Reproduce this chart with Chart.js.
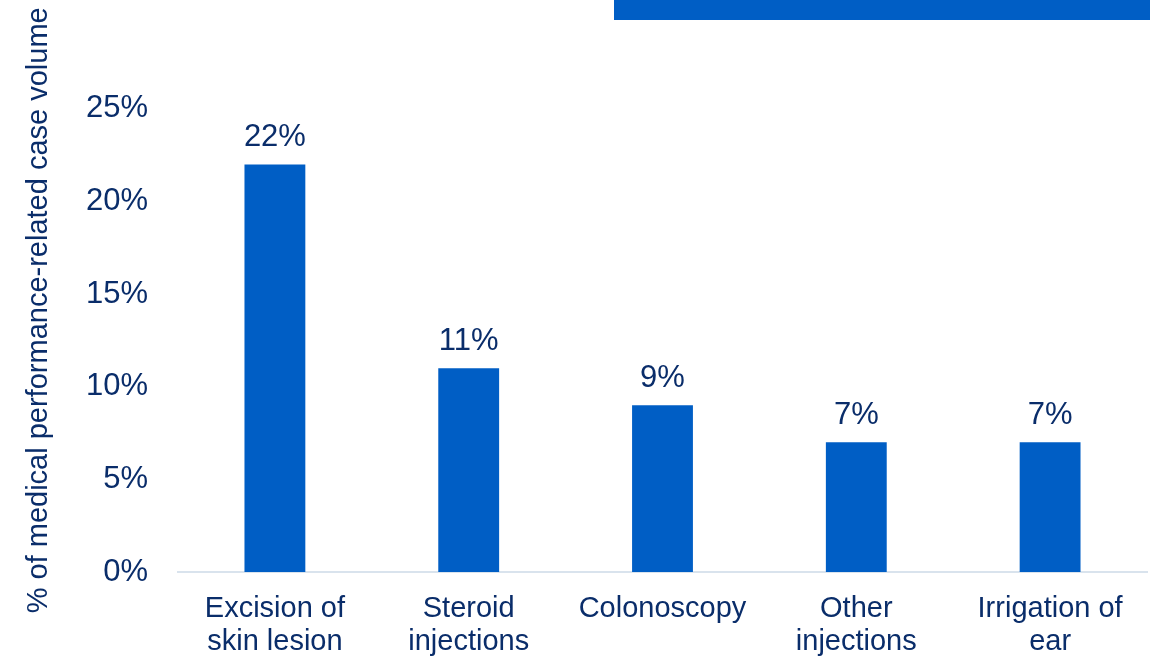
<!DOCTYPE html>
<html>
<head>
<meta charset="utf-8">
<script src="https://cdn.jsdelivr.net/npm/chart.js@4/dist/chart.umd.min.js"></script>
<style>
  html, body { margin: 0; padding: 0; background: #fff; }
  #wrap { position: relative; width: 1153px; height: 656px; }
  #topBar { position: absolute; left: 614px; top: 0; width: 536px; height: 20px; background: #005EC5; }
</style>
</head>
<body>
<div id="wrap">
  <canvas id="procChart" width="1153" height="656"></canvas>
  <div id="topBar"></div>
</div>
<script>
const procedures = [
    ['Excision of', 'skin lesion'],
    ['Steroid', 'injections'],
    ['Colonoscopy'],
    ['Other', 'injections'],
    ['Irrigation of', 'ear']
];
const caseShare = [22, 11, 9, 7, 7];
const yTicks = [0, 5, 10, 15, 20, 25];

const navy = '#0A2D6A';
const barBlue = '#005EC5';
const fontFamily = '"Liberation Sans", Arial, sans-serif';

// value labels drawn above each bar
const barLabels = {
    id: 'barLabels',
    afterDatasetsDraw(chart) {
        const ctx = chart.ctx;
        const meta = chart.getDatasetMeta(0);
        ctx.save();
        ctx.fillStyle = navy;
        ctx.font = '31px ' + fontFamily;
        ctx.textAlign = 'center';
        ctx.textBaseline = 'alphabetic';
        meta.data.forEach((bar, i) => {
            ctx.fillText(caseShare[i] + '%', bar.x, bar.y - 18);
        });
        ctx.restore();
    }
};

let ctx = document.getElementById('procChart').getContext('2d');
let procChart = new Chart(ctx, {
    type: 'bar',
    data: {
        labels: procedures,
        datasets: [
            {
                data: caseShare,
                backgroundColor: barBlue,
                borderWidth: 0,
                categoryPercentage: 1,
                barPercentage: 0.314
            }
        ]
    },
    options: {
        responsive: false,
        animation: false,
        layout: { padding: { left: 0, right: 6, top: 0, bottom: 0 } },
        plugins: {
            legend: { display: false },
            tooltip: { enabled: false }
        },
        scales: {
            x: {
                grid: { display: false, drawTicks: false },
                border: { display: true, color: '#D9E3ED', width: 2 },
                afterFit(scale) {
                    scale.height = 84;
                },
                ticks: {
                    color: navy,
                    font: { family: fontFamily, size: 29, lineHeight: 1.14 },
                    padding: 20,
                    maxRotation: 0,
                    autoSkip: false
                }
            },
            y: {
                min: 0,
                max: 28.25,
                grid: { display: false, drawTicks: false },
                border: { display: false },
                afterBuildTicks(scale) {
                    scale.ticks = yTicks.map(v => ({ value: v }));
                },
                afterFit(scale) {
                    scale.width = 178;
                },
                ticks: {
                    color: navy,
                    font: { family: fontFamily, size: 31 },
                    padding: 30,
                    callback: v => v + '%'
                },
                title: {
                    display: true,
                    text: '% of medical performance-related case volume',
                    color: navy,
                    font: { family: fontFamily, size: 29, lineHeight: 1.2 },
                    padding: { top: 22, bottom: 0 }
                }
            }
        }
    },
    plugins: [barLabels]
});
</script>
</body>
</html>
